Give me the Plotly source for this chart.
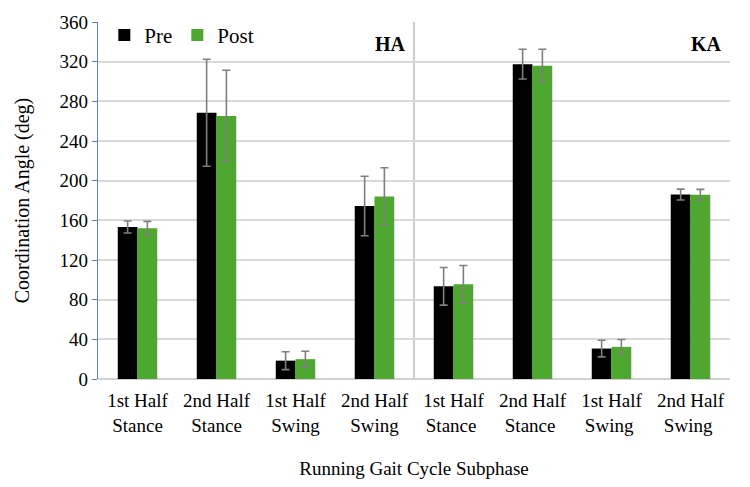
import plotly.graph_objects as go

categories = ["1st Half<br>Stance", "2nd Half<br>Stance", "1st Half<br>Swing", "2nd Half<br>Swing",
              "1st Half<br>Stance ", "2nd Half<br>Stance ", "1st Half<br>Swing ", "2nd Half<br>Swing "]
pre_values = [153.3, 268.5, 18.5, 174.5, 93.5, 317.5, 30.7, 186.0]
pre_errors = [6.0, 54.0, 9.0, 30.0, 19.0, 15.0, 8.4, 5.5]
post_values = [152.0, 265.3, 20.0, 184.0, 95.5, 316.0, 32.4, 185.7]
post_errors = [7.0, 46.0, 8.0, 29.0, 19.0, 16.5, 7.4, 5.5]
y_ticks = [0, 40, 80, 120, 160, 200, 240, 280, 320, 360]
group_labels = ["HA", "KA"]

FONT = "'Liberation Serif', 'Times New Roman', serif"
err_style = dict(type="data", visible=True, color="#7f7f7f", thickness=1.6, width=4)

fig = go.Figure()
fig.add_trace(go.Bar(name="Pre", x=list(range(8)), y=pre_values, marker_color="#000000",
                     marker_line_width=0,
                     error_y=dict(array=pre_errors, **err_style)))
fig.add_trace(go.Bar(name="Post", x=list(range(8)), y=post_values, marker_color="#4EA72E",
                     marker_line_width=0,
                     error_y=dict(array=post_errors, **err_style)))

fig.add_shape(type="line", x0=3.5, x1=3.5, y0=0, y1=360, xref="x", yref="y",
              line=dict(color="#b0b0b0", width=1.3), layer="below")

fig.add_annotation(x=3.42, y=338, xref="x", yref="y", text="<b>" + group_labels[0] + "</b>",
                   showarrow=False, xanchor="right", yanchor="middle",
                   font=dict(family=FONT, size=20, color="#000000"))
fig.add_annotation(x=7.43, y=338, xref="x", yref="y", text="<b>" + group_labels[1] + "</b>",
                   showarrow=False, xanchor="right", yanchor="middle",
                   font=dict(family=FONT, size=20, color="#000000"))

fig.update_layout(
    width=750, height=487,
    margin=dict(l=98, r=20, t=20, b=108),
    paper_bgcolor="white", plot_bgcolor="white",
    barmode="group", bargap=0.5, bargroupgap=0,
    font=dict(family=FONT, size=19, color="#000000"),
    legend=dict(orientation="h", x=0.01, y=1.02, xanchor="left", yanchor="top",
                font=dict(family=FONT, size=21), itemwidth=30, tracegroupgap=0,
                bgcolor="rgba(0,0,0,0)"),
    xaxis=dict(
        tickmode="array", tickvals=list(range(8)), ticktext=categories,
        range=[-0.5, 7.5], showgrid=False, zeroline=False,
        showline=False, ticks="", ticklabelstandoff=8,
        tickfont=dict(family=FONT, size=19),
        title=dict(text="Running Gait Cycle Subphase", font=dict(family=FONT, size=19), standoff=26),
    ),
    yaxis=dict(
        range=[0, 360], tickmode="array", tickvals=y_ticks,
        showgrid=True, gridcolor="#d9d9d9", gridwidth=1.5,
        zeroline=True, zerolinecolor="#d0d0d0", zerolinewidth=1.5,
        showline=True, linecolor="#5A87AD", linewidth=1.3,
        ticks="outside", ticklen=5, tickcolor="#5A87AD", tickwidth=1.3,
        tickfont=dict(family=FONT, size=19),
        title=dict(text="Coordination Angle (deg)", font=dict(family=FONT, size=20), standoff=24),
    ),
)

fig.write_html("out.html")
